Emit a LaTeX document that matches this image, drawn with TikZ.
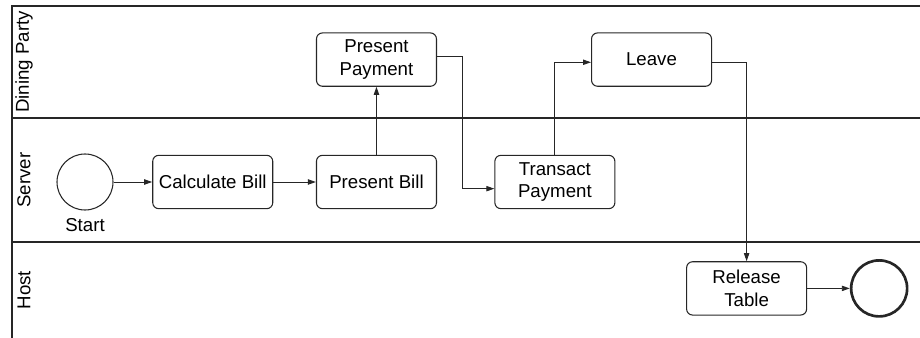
\documentclass[tikz,border=0pt]{standalone}
\usepackage{fontspec}
\setmainfont{Liberation Sans}
\usepackage{xcolor}
\usetikzlibrary{arrows.meta,positioning}

\begin{document}
\begin{tikzpicture}[x=0.75pt, y=-0.75pt, font=\fontsize{14}{17}\selectfont, >={Triangle[length=6pt,width=4pt]},
 task/.style={draw=black!85, line width=0.8pt, rounded corners=4.5pt, align=center, minimum width=90pt, minimum height=40pt, inner sep=2pt},
 event/.style={draw=black!85, line width=0.8pt, circle, minimum size=42pt, inner sep=0pt},
 lane/.style={draw=black!85, line width=1.2pt},
 line/.style={->, draw=black!85, line width=0.7pt}]
\useasboundingbox (0,0) rectangle (920,338);
\draw[lane] (920,6) -- (12,6) -- (12,338);
\draw[lane] (12,118) -- (920,118);
\draw[lane] (12,242) -- (920,242);
\node[rotate=90] (dining) at (24,62) {Dining Party};
\node[rotate=90] (server) at (24,180) {Server};
\node[rotate=90] (host) at (24,290) {Host};
\node[event] (start) at (85,182) {};
\node[below=2.5pt of start] (startlbl) {Start};
\node[task, right=29pt of start] (calc) {Calculate Bill};
\node[task, right=32pt of calc] (bill) {Present Bill};
\node[task, above=51pt of bill] (payment) {Present\\Payment};
\node[task, right=43pt of bill] (transact) {Transact\\Payment};
\node[task, right=115.5pt of payment] (leave) {Leave};
\node[task, below right=39pt and 53pt of transact] (release) {Release\\Table};
\node[event, line width=2pt, right=32pt of release] (end) {};
\draw[line] (start) -- (calc);
\draw[line] (calc) -- (bill);
\draw[line] (bill) -- (payment);
\draw[line] ([yshift=2pt]payment.east) -- ++(19pt,0) |- ([yshift=-5pt]transact.west);
\draw[line] (transact) |- ([yshift=-2pt]leave.west);
\draw[line] ([yshift=-2pt]leave.east) -| (release);
\draw[line] (release) -- (end);
\end{tikzpicture}
\end{document}
